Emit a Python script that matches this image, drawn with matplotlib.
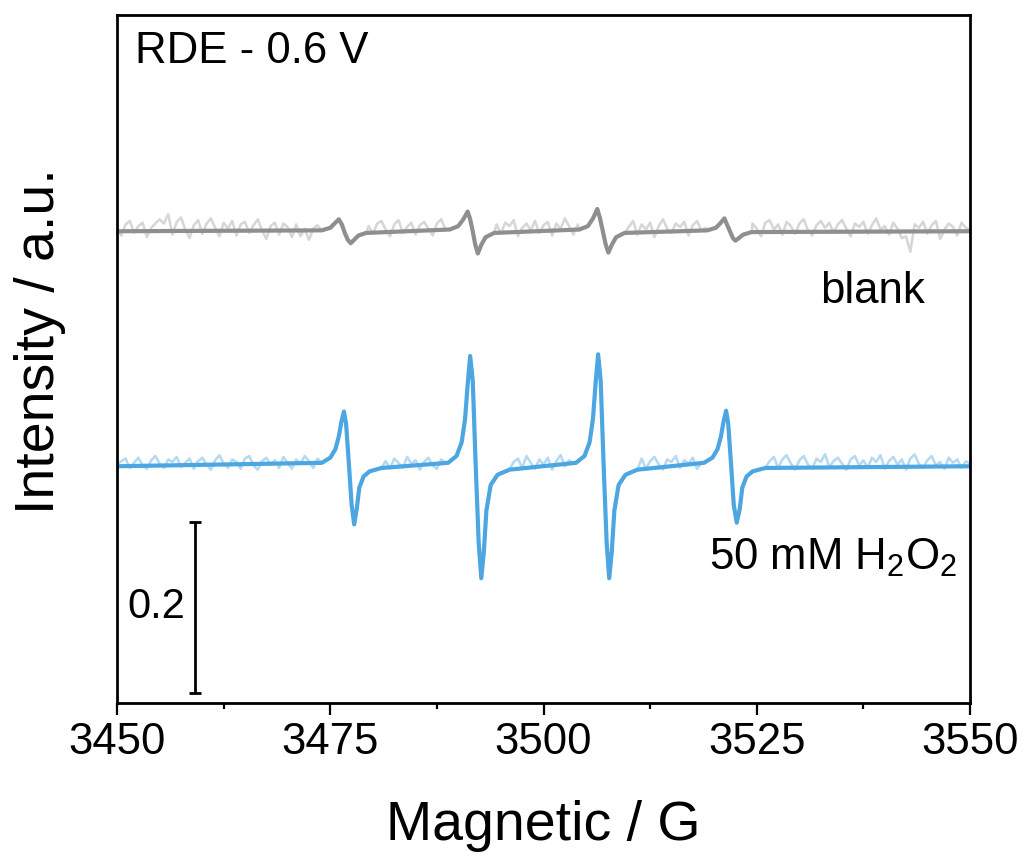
import numpy as np
import matplotlib.pyplot as plt
from matplotlib.ticker import MultipleLocator

plt.rcParams['font.family'] = ['Liberation Sans', 'DejaVu Sans']
plt.rcParams['mathtext.default'] = 'regular'

# field range (G)
field_min, field_max = 3450, 3550
noise_field = np.arange(3450, 3550.01, 0.5)

# vertical offsets of the two spectra
blue_offset = 0.277
gray_offset = 0.552

# 50 mM H2O2 (blue), smoothed line, read peak by peak
blue_peak_fields = [
    [3474.0, 3475.0, 3475.6, 3476.0, 3476.3, 3476.6, 3476.85, 3477.2, 3477.5, 3477.8, 3478.1, 3478.4, 3478.9, 3479.6, 3481.0],
    [3488.8, 3489.8, 3490.4, 3490.8, 3491.1, 3491.4, 3491.7, 3492.05, 3492.4, 3492.7, 3493.0, 3493.3, 3493.8, 3494.6, 3496.0],
    [3503.8, 3504.8, 3505.4, 3505.8, 3506.1, 3506.4, 3506.7, 3507.05, 3507.4, 3507.7, 3508.0, 3508.3, 3508.8, 3509.6, 3511.0],
    [3518.8, 3519.8, 3520.4, 3520.8, 3521.1, 3521.4, 3521.65, 3522.0, 3522.3, 3522.65, 3523.0, 3523.3, 3523.8, 3524.5, 3526.0],
]
blue_peak_values = [
    [0.004, 0.010, 0.020, 0.035, 0.052, 0.064, 0.050, 0.000, -0.045, -0.068, -0.050, -0.025, -0.012, -0.006, -0.002],
    [0.004, 0.012, 0.028, 0.055, 0.095, 0.129, 0.100, 0.000, -0.090, -0.131, -0.100, -0.052, -0.022, -0.010, -0.004],
    [0.004, 0.012, 0.028, 0.056, 0.097, 0.131, 0.100, 0.000, -0.090, -0.131, -0.100, -0.052, -0.022, -0.010, -0.004],
    [0.004, 0.010, 0.020, 0.035, 0.052, 0.065, 0.050, 0.000, -0.045, -0.066, -0.050, -0.025, -0.012, -0.006, -0.002],
]

# blank (gray), smoothed line
gray_peak_fields = [
    [3474.0, 3475.0, 3475.5, 3476.0, 3476.35, 3476.7, 3477.05, 3477.4, 3477.8, 3478.3, 3479.2],
    [3489.0, 3490.0, 3490.6, 3491.1, 3491.4, 3491.7, 3492.0, 3492.3, 3492.7, 3493.2, 3494.2],
    [3504.2, 3505.2, 3505.8, 3506.3, 3506.6, 3506.95, 3507.3, 3507.6, 3508.0, 3508.5, 3509.5],
    [3519.2, 3520.2, 3520.7, 3521.2, 3521.5, 3521.85, 3522.2, 3522.5, 3522.9, 3523.4, 3524.4],
]
gray_peak_values = [
    [0.001, 0.004, 0.009, 0.014, 0.008, -0.002, -0.010, -0.014, -0.010, -0.005, -0.002],
    [0.002, 0.006, 0.014, 0.023, 0.014, 0.000, -0.016, -0.026, -0.016, -0.007, -0.002],
    [0.002, 0.006, 0.015, 0.026, 0.016, 0.000, -0.016, -0.025, -0.016, -0.007, -0.002],
    [0.001, 0.004, 0.009, 0.015, 0.008, 0.000, -0.008, -0.011, -0.008, -0.004, -0.001],
]

# raw-signal baseline noise, 0.5 G steps, in units of 1e-3
# (points inside the peak windows are replaced by the peak points)
blue_noise = [
    2, 6, 9, -2, 4, 10, 1, -3, 7, 12,
    3, -2, 8, 5, 11, -1, 4, 9, -3, 6,
    10, 2, -4, 7, 13, 3, -2, 8, 5, -3,
    9, 12, 1, -4, 6, 10, 2, 7, -2, 11,
    4, -3, 8, 3, 12, 6, -2, 9, 1, 5,
    0, 0, 0, 0, 0, 0, 0, 0, 0, 0,
    0, 0, 0, 6, -3, 9, 4, -2, 11, 3,
    7, -4, 5, 10, 1, -3, 8, 4, 0, 0,
    0, 0, 0, 0, 0, 0, 0, 0, 0, 0,
    0, 0, 0, 5, 9, -2, 12, 4, -3, 8,
    2, 10, -4, 6, 13, 0, 7, 3, 0, 0,
    0, 0, 0, 0, 0, 0, 0, 0, 0, 0,
    0, 0, 0, 9, -3, 6, 11, 2, -4, 8,
    5, 12, -2, 7, 3, 10, -3, 4, 0, 0,
    0, 0, 0, 0, 0, 0, 0, 0, 0, 0,
    0, 0, 0, 6, 11, -2, 8, 13, 3, -4,
    7, 12, 2, -3, 9, 5, 14, -1, 6, 10,
    3, -4, 8, 12, 1, 7, -2, 10, 5, 13,
    -3, 6, 11, 2, 8, -4, 9, 14, 3, -2,
    7, 12, 1, 5, -3, 10, 4, 8, -2, 6,
    3]
gray_noise = [
    3, -5, 8, 12, -2, 6, 10, -7, 4, 9,
    14, 9, 20, -4, 11, 16, 2, -8, 7, 13,
    -3, 9, 15, 4, -6, 10, 3, 12, -5, 8,
    11, -2, 7, 14, 1, -9, 6, 10, -4, 9,
    5, -7, 8, -6, 3, -10, 3, 7, 0, 0,
    0, 0, 0, 0, 0, 0, 0, 0, 0, 6,
    -3, 9, 12, 2, -6, 8, 13, -2, 5, 10,
    -4, 7, 11, 3, -5, 9, 14, 2, 0, 0,
    0, 0, 0, 0, 0, 0, 0, 0, 0, 8,
    -3, 10, 6, 13, -6, 4, 9, 1, 12, -2,
    7, 11, -5, 9, 3, 15, 6, -4, 8, 0,
    0, 0, 0, 0, 0, 0, 0, 0, 0, 0,
    5, 12, -4, 8, 2, 10, -7, 6, 14, 3,
    -2, 9, 5, 11, -5, 7, 12, 1, 4, 0,
    0, 0, 0, 0, 0, 0, 0, 0, 0, 9,
    3, -6, 10, 13, 2, 8, -4, 11, 6, -3,
    9, 14, 1, -5, 7, 12, 4, 10, -2, 8,
    13, 3, -6, 9, 5, 11, -3, 7, 15, 2,
    6, -4, 10, 3, -8, -6, -24, 8, 4, 11,
    -3, 7, 12, -9, 2, 9, 5, -5, 10, 4,
    2]


def smooth_trace(peak_fields, peak_values):
    x = [field_min]
    y = [0.0]
    for f, v in zip(peak_fields, peak_values):
        x += f
        y += v
    x.append(field_max)
    y.append(0.0)
    return np.array(x), np.array(y)


def raw_trace(peak_fields, peak_values, noise):
    nx = noise_field.astype(float)
    ny = np.array(noise) / 1000.0
    keep = np.ones(len(nx), dtype=bool)
    for f in peak_fields:
        keep &= ~((nx >= f[0]) & (nx <= f[-1]))
    x = list(nx[keep])
    y = list(ny[keep])
    for f, v in zip(peak_fields, peak_values):
        x += f
        y += v
    order = np.argsort(x)
    return np.array(x)[order], np.array(y)[order]


fig = plt.figure(figsize=(10.24, 8.57), dpi=100)
ax = fig.add_axes([0.1143, 0.1797, 0.8330, 0.8028])

bx, by = raw_trace(blue_peak_fields, blue_peak_values, blue_noise)
ax.plot(bx, by + blue_offset, color='#b3d9f3', lw=1.8)
bx, by = smooth_trace(blue_peak_fields, blue_peak_values)
ax.plot(bx, by + blue_offset, color='#4ba6e1', lw=3)

gx, gy = raw_trace(gray_peak_fields, gray_peak_values, gray_noise)
ax.plot(gx, gy + gray_offset, color='#d6d6d6', lw=1.8)
gx, gy = smooth_trace(gray_peak_fields, gray_peak_values)
ax.plot(gx, gy + gray_offset, color='#8f8f8f', lw=3)

# scale bar
ax.errorbar([3459.1], [0.112], yerr=[0.1], color='k', elinewidth=2,
            capsize=4.3, capthick=2)
ax.text(3458.0, 0.112, '0.2', fontsize=30, ha='right', va='center')

ax.text(3452.1, 0.749, 'RDE - 0.6 V', fontsize=31.5, ha='left', va='baseline')
ax.text(3544.7, 0.468, 'blank', fontsize=31.5, ha='right', va='baseline')
ax.text(3548.5, 0.156, '50 mM H$_2$O$_2$', fontsize=31.5, ha='right', va='baseline')

ax.set_xlim(field_min, field_max)
ax.set_ylim(0, 0.805)
ax.xaxis.set_major_locator(MultipleLocator(25))
ax.xaxis.set_minor_locator(MultipleLocator(12.5))
ax.set_yticks([])
ax.tick_params(axis='x', which='major', length=8.5, width=1.6, labelsize=31.5, pad=5)
ax.tick_params(axis='x', which='minor', length=4.3, width=1.6)
for s in ax.spines.values():
    s.set_linewidth(2)

ax.set_xlabel('Magnetic / G', fontsize=40, labelpad=27)
ax.set_ylabel('Intensity / a.u.', fontsize=40, labelpad=37)
ax.yaxis.label.set_y(0.526)

fig.savefig('out.png', dpi=100)
